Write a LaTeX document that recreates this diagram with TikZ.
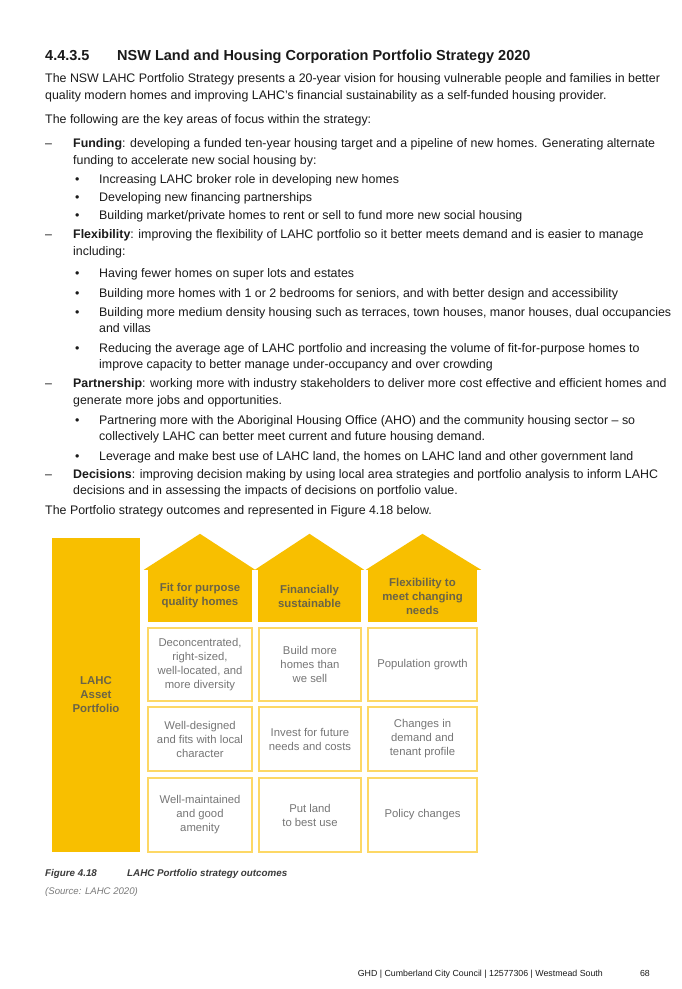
\documentclass[tikz,border=0pt]{standalone}
\usepackage{fontspec}
\setmainfont{Liberation Sans}
\usepackage{xcolor}
\usepackage{tikz}
\usetikzlibrary{calc}
\definecolor{ink}{HTML}{1A1A1A}
\definecolor{lahc}{HTML}{F8BF00}
\definecolor{edge}{HTML}{FDD865}
\definecolor{olive}{HTML}{6B6446}
\definecolor{cellink}{HTML}{767676}
\definecolor{capink}{HTML}{3A3A3A}
\definecolor{srcink}{HTML}{7A7A7A}
\tikzset{
  txt/.style={anchor=base west, inner sep=0pt, text=ink, font=\fontsize{12.4}{15}\selectfont},
  hd/.style={txt, font=\fontsize{14.5}{17}\selectfont\bfseries},
  capt/.style={anchor=base west, inner sep=0pt, text=capink, font=\fontsize{9.8}{12}\selectfont\bfseries\itshape},
  src/.style={anchor=base west, inner sep=0pt, text=srcink, font=\fontsize{9.6}{12}\selectfont\itshape},
  foot/.style={anchor=base east, inner sep=0pt, text=ink, font=\fontsize{8.8}{11}\selectfont},
  roof/.style={fill=lahc},
  body/.style={fill=lahc, inner sep=0pt, align=center, text=olive, font=\fontsize{11.4}{14}\selectfont\bfseries},
  cell/.style={draw=edge, line width=1.2pt, fill=white, inner sep=0pt, align=center, text=cellink, font=\fontsize{11.3}{14}\selectfont},
}

\begin{document}
\begin{tikzpicture}[x=1pt,y=-1pt]
  \useasboundingbox[fill=white] (0,0) rectangle (682,989);

  \node[hd] (num) at (45,60) {4.4.3.5};
  \node[hd] (title) at (117,60) {NSW Land and Housing Corporation Portfolio Strategy 2020};

  \node[txt] (p1) at (45,82) {The NSW LAHC Portfolio Strategy presents a 20-year vision for housing vulnerable people and families in better};
  \node[txt] (p2) at (45,99) {quality modern homes and improving LAHC’s financial sustainability as a self-funded housing provider.};
  \node[txt] (p3) at (45,123) {The following are the key areas of focus within the strategy:};

  \node[txt] (d1) at (45,147) {–};
  \node[txt] (f1) at (73,147) {\textbf{Funding}: developing a funded ten-year housing target and a pipeline of new homes. Generating alternate};
  \node[txt] (f2) at (73,164) {funding to accelerate new social housing by:};
  \node[txt] (fb1) at (75,183) {•};
  \node[txt] (f3) at (99,183) {Increasing LAHC broker role in developing new homes};
  \node[txt] (fb2) at (75,201) {•};
  \node[txt] (f4) at (99,201) {Developing new financing partnerships};
  \node[txt] (fb3) at (75,219) {•};
  \node[txt] (f5) at (99,219) {Building market/private homes to rent or sell to fund more new social housing};

  \node[txt] (d2) at (45,238) {–};
  \node[txt] (x1) at (73,238) {\textbf{Flexibility}: improving the flexibility of LAHC portfolio so it better meets demand and is easier to manage};
  \node[txt] (x2) at (73,255) {including:};
  \node[txt] (xb1) at (75,277) {•};
  \node[txt] (x3) at (99,277) {Having fewer homes on super lots and estates};
  \node[txt] (xb2) at (75,297) {•};
  \node[txt] (x4) at (99,297) {Building more homes with 1 or 2 bedrooms for seniors, and with better design and accessibility};
  \node[txt] (xb3) at (75,316) {•};
  \node[txt] (x5) at (99,316) {Building more medium density housing such as terraces, town houses, manor houses, dual occupancies};
  \node[txt] (x6) at (99,332) {and villas};
  \node[txt] (xb4) at (75,352) {•};
  \node[txt] (x7) at (99,352) {Reducing the average age of LAHC portfolio and increasing the volume of fit-for-purpose homes to};
  \node[txt] (x8) at (99,368) {improve capacity to better manage under-occupancy and over crowding};

  \node[txt] (d3) at (45,387) {–};
  \node[txt] (r1) at (73,387) {\textbf{Partnership}: working more with industry stakeholders to deliver more cost effective and efficient homes and};
  \node[txt] (r2) at (73,404) {generate more jobs and opportunities.};
  \node[txt] (rb1) at (75,424) {•};
  \node[txt] (r3) at (99,424) {Partnering more with the Aboriginal Housing Office (AHO) and the community housing sector – so};
  \node[txt] (r4) at (99,440) {collectively LAHC can better meet current and future housing demand.};
  \node[txt] (rb2) at (75,460) {•};
  \node[txt] (r5) at (99,460) {Leverage and make best use of LAHC land, the homes on LAHC land and other government land};

  \node[txt] (d4) at (45,478) {–};
  \node[txt] (s1) at (73,478) {\textbf{Decisions}: improving decision making by using local area strategies and portfolio analysis to inform LAHC};
  \node[txt] (s2) at (73,494) {decisions and in assessing the impacts of decisions on portfolio value.};
  \node[txt] (p4) at (45,514) {The Portfolio strategy outcomes and represented in Figure 4.18 below.};

  \node[body, minimum width=88, minimum height=314] (asset) at (96,695) {LAHC\\Asset\\Portfolio};

  \node[body, minimum width=104, minimum height=52] (h1) at (200,596) {Fit for purpose\\quality homes};
  \node[body, minimum width=103, minimum height=52] (h2) at (309.5,596) {Financially\\sustainable};
  \node[body, minimum width=109, minimum height=52] (h3) at (422.5,596) {Flexibility to\\meet changing\\needs};
  \fill[roof] ($(h1.north west)+(-4,0)$) -- ($(h1.north)+(0,-36)$) -- ($(h1.north east)+(3,0)$) -- cycle;
  \fill[roof] ($(h2.north west)+(-3,0)$) -- ($(h2.north)+(0,-36)$) -- ($(h2.north east)+(3,0)$) -- cycle;
  \fill[roof] ($(h3.north west)+(-2,0)$) -- ($(h3.north)+(0,-36)$) -- ($(h3.north east)+(4,0)$) -- cycle;

  \node[cell, minimum width=104, minimum height=73] (c11) at (200,664.5) {Deconcentrated,\\right-sized,\\well-located, and\\more diversity};
  \node[cell, minimum width=102, minimum height=73] (c12) at (310,664.5) {Build more\\homes than\\we sell};
  \node[cell, minimum width=109, minimum height=73] (c13) at (422.5,664.5) {Population growth};
  \node[cell, minimum width=104, minimum height=64] (c21) at (200,739) {Well-designed\\and fits with local\\character};
  \node[cell, minimum width=102, minimum height=64] (c22) at (310,739) {Invest for future\\needs and costs};
  \node[cell, minimum width=109, minimum height=64] (c23) at (422.5,739) {Changes in\\demand and\\tenant profile};
  \node[cell, minimum width=104, minimum height=74] (c31) at (200,815) {Well-maintained\\and good\\amenity};
  \node[cell, minimum width=102, minimum height=74] (c32) at (310,815) {Put land\\to best use};
  \node[cell, minimum width=109, minimum height=74] (c33) at (422.5,815) {Policy changes};

  \node[capt] (fig) at (45,876) {Figure 4.18};
  \node[capt] (figtitle) at (127,876) {LAHC Portfolio strategy outcomes};
  \node[src] (source) at (45,894) {(Source: LAHC 2020)};

  \node[foot] (footer) at (603,976) {GHD | Cumberland City Council | 12577306 | Westmead South};
  \node[foot] (page) at (650,976) {68};
\end{tikzpicture}
\end{document}
